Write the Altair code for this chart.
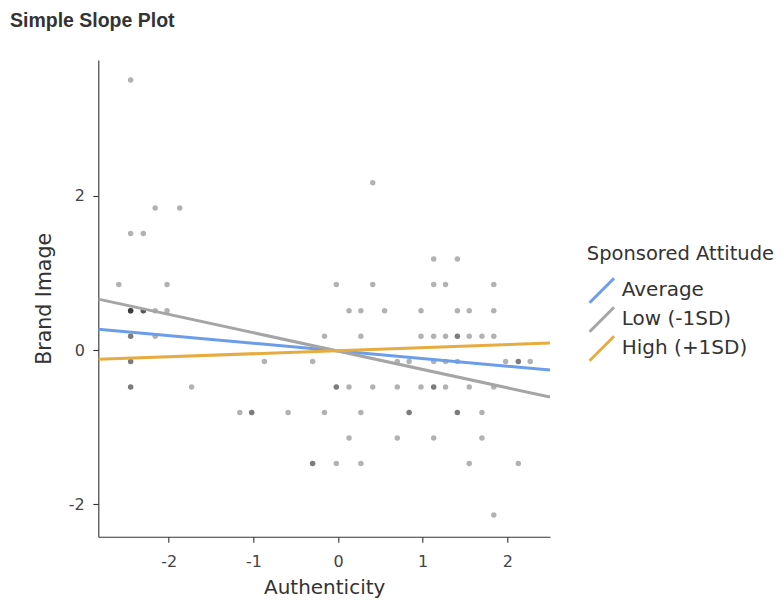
import altair as alt
import pandas as pd

# scatter points (duplicates = overlapping observations)
pts_x = [
    -2.45,
    0.41,
    -2.16, -1.87,
    -2.45, -2.30,
    1.13, 1.41,
    -2.59, -2.02, -0.02, 0.41, 1.13, 1.27, 1.84,
    -2.45, -2.45, -2.45, -2.45, -2.30, -2.30, -2.30, -2.16, -2.02, 0.13, 0.27, 0.55, 0.98, 1.41, 1.55, 1.84,
    -2.45, -2.45, -2.16, -0.16, 0.27, 0.98, 1.13, 1.27, 1.41, 1.41, 1.55, 1.70, 1.84,
    -2.45, -2.45, -0.87, -0.30, 0.70, 0.84, 1.13, 1.27, 1.41, 1.98, 2.13, 2.13, 2.27,
    -2.45, -2.45, -1.73, -0.02, -0.02, 0.13, 0.41, 0.70, 0.98, 1.13, 1.13, 1.27, 1.55, 1.84,
    -1.16, -1.02, -1.02, -0.59, -0.16, 0.27, 0.84, 0.84, 1.41, 1.41, 1.70,
    0.13, 0.70, 1.13, 1.70,
    -0.30, -0.30, -0.02, 0.27, 1.55, 2.13,
    1.84,
]
pts_y = [
    3.50,
    2.17,
    1.84, 1.84,
    1.51, 1.51,
    1.18, 1.18,
    0.85, 0.85, 0.85, 0.85, 0.85, 0.85, 0.85,
    0.51, 0.51, 0.51, 0.51, 0.51, 0.51, 0.51, 0.51, 0.51, 0.51, 0.51, 0.51, 0.51, 0.51, 0.51, 0.51,
    0.18, 0.18, 0.18, 0.18, 0.18, 0.18, 0.18, 0.18, 0.18, 0.18, 0.18, 0.18, 0.18,
    -0.15, -0.15, -0.15, -0.15, -0.15, -0.15, -0.15, -0.15, -0.15, -0.15, -0.15, -0.15, -0.15,
    -0.48, -0.48, -0.48, -0.48, -0.48, -0.48, -0.48, -0.48, -0.48, -0.48, -0.48, -0.48, -0.48, -0.48,
    -0.81, -0.81, -0.81, -0.81, -0.81, -0.81, -0.81, -0.81, -0.81, -0.81, -0.81,
    -1.14, -1.14, -1.14, -1.14,
    -1.47, -1.47, -1.47, -1.47, -1.47, -1.47,
    -2.14,
]

# simple slope lines
line_groups = ["Average", "Low (-1SD)", "High (+1SD)"]
line_colors = ["#6B9DE8", "#A5A5A5", "#E6AC40"]
line_x = [-2.832, 2.504]
line_y_start = [0.27, 0.66, -0.12]
line_y_end = [-0.26, -0.61, 0.09]

x_ticks = [-2, -1, 0, 1, 2]
y_ticks = [-2, 0, 2]
x_domain = [-2.832, 2.504]
y_domain = [-2.42, 3.76]

pts_df = pd.DataFrame({"x": pts_x, "y": pts_y})
rows = []
for i, g in enumerate(line_groups):
    rows.append({"group": g, "x": line_x[0], "y": line_y_start[i], "o": i})
    rows.append({"group": g, "x": line_x[1], "y": line_y_end[i], "o": i})
line_df = pd.DataFrame(rows)

TXT = "#333333"
FONT = "DejaVu Sans"
LBL = "'' + datum.value"

xscale = alt.Scale(domain=x_domain, nice=False, zero=False)
yscale = alt.Scale(domain=y_domain, nice=False, zero=False)

xaxis = alt.Axis(values=x_ticks, title="Authenticity", labelPadding=11, titlePadding=8,
                 labelExpr=LBL, grid=False, titleFontSize=20)
yaxis = alt.Axis(values=y_ticks, title="Brand Image", labelPadding=8.5, titlePadding=14,
                 labelExpr=LBL, grid=False)

points = alt.Chart(pts_df).mark_circle(size=30, color="black", opacity=0.3).encode(
    x=alt.X("x:Q", scale=xscale, axis=xaxis),
    y=alt.Y("y:Q", scale=yscale, axis=yaxis),
)

lines = alt.Chart(line_df).mark_line(strokeWidth=3, clip=True, strokeCap="butt").encode(
    x=alt.X("x:Q", scale=xscale),
    y=alt.Y("y:Q", scale=yscale),
    color=alt.Color(
        "group:N",
        scale=alt.Scale(domain=line_groups, range=line_colors),
        sort=line_groups,
        legend=alt.Legend(
            title="Sponsored Attitude",
            orient="none",
            legendX=488.5,
            legendY=185,
            padding=0,
            symbolType="M-2,2L2,-2",
            symbolSize=150,
            symbolStrokeWidth=3,
            symbolOffset=5,
            labelOffset=10,
            rowPadding=-30,
            titlePadding=16,
            titleLimit=0,
            labelLimit=0,
            titleFontSize=19.5,
            titleFontWeight="normal",
            titleFont=FONT,
            titleColor=TXT,
            labelFontSize=20,
            labelFont=FONT,
            labelColor=TXT,
        ),
    ),
    order=alt.Order("o:Q"),
)

chart = alt.layer(points, lines).properties(
    width=451.7,
    height=476.7,
    background="white",
    autosize=alt.AutoSizeParams(type="none"),
    padding={"left": 90.3, "top": 52, "right": 226, "bottom": 61},
    title=alt.TitleParams(
        "Simple Slope Plot",
        anchor="start",
        frame="group",
        dx=-88.3,
        offset=28.6,
        font="Liberation Sans",
        fontSize=19.5,
        fontWeight="bold",
        color=TXT,
    ),
).configure_view(stroke=None).configure_axis(
    grid=False,
    domainColor=TXT,
    domainWidth=1.1,
    tickColor=TXT,
    tickWidth=1.1,
    tickSize=5.5,
    labelFont=FONT,
    labelFontSize=16,
    labelColor="#444444",
    titleFont=FONT,
    titleFontSize=20.5,
    titleFontWeight="normal",
    titleColor=TXT,
)

chart.save("out.html", embed_options={"renderer": "svg", "actions": False})
